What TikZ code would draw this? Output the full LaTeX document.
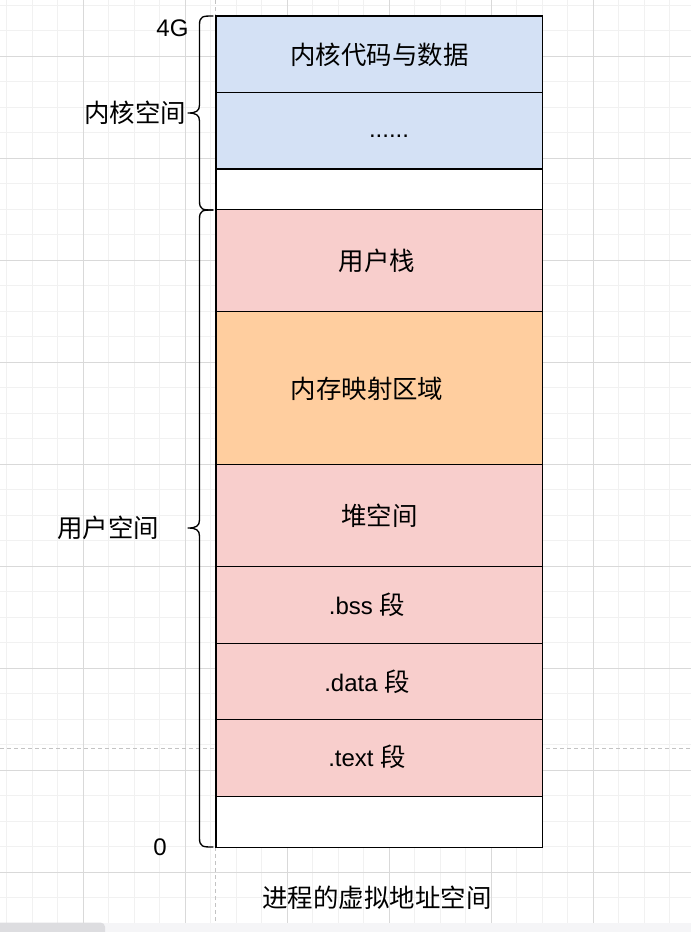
\documentclass[tikz,border=0pt]{standalone}
\usepackage{fontspec}
\setmainfont{Liberation Sans}
\newfontfamily\cjk{Noto Sans CJK SC}[Scale=1.06]
\definecolor{kblue}{HTML}{D4E1F5}
\definecolor{upink}{HTML}{F8CECC}
\definecolor{morange}{HTML}{FFCE9F}
\definecolor{gmajor}{HTML}{D9D9D9}
\definecolor{gminor}{HTML}{F1F1F1}
\definecolor{pageline}{HTML}{C3C3C3}
\definecolor{sbar}{HTML}{F5F5F7}
\definecolor{shandle}{HTML}{DDDDE0}
\newcommand\mybrace[3]{%
  \draw[bracel] (213,#1) .. controls (203,#1) and (199.5,#1) .. (199.5,#1+9)
    -- (199.5,#2-8) .. controls (199.5,#2-2) and (196,#2) .. (188,#2)
    .. controls (196,#2) and (199.5,#2+2) .. (199.5,#2+8)
    -- (199.5,#3-9) .. controls (199.5,#3) and (203,#3) .. (213,#3);}
\begin{document}
\begin{tikzpicture}[x=0.75pt,y=-0.75pt,
  row/.style={draw=black, line width=1pt, minimum width=244.8pt, inner sep=0pt, outer sep=0pt, anchor=north west},
  txt/.style={font=\fontsize{18}{20}\selectfont, inner sep=0pt},
  bracel/.style={draw=black, line width=1pt, line join=round, line cap=round}]
\useasboundingbox (0,0) rectangle (691,932);
\fill[white] (0,0) rectangle (691,932);
% grid
\foreach \x in {6.8,32.3,...,691} \draw[gminor, line width=0.75pt] (\x,0) -- (\x,923);
\foreach \y in {5.3,30.8,...,923} \draw[gminor, line width=0.75pt] (0,\y) -- (691,\y);
\foreach \x in {83.3,185.3,...,691} \draw[gmajor, line width=0.75pt] (\x,0) -- (\x,923);
\foreach \y in {56.3,158.3,...,923} \draw[gmajor, line width=0.75pt] (0,\y) -- (691,\y);
% page break lines
\draw[pageline, line width=0.75pt, dash pattern=on 3pt off 2.25pt] (215.5,0) -- (215.5,923);
\draw[pageline, line width=0.75pt, dash pattern=on 3pt off 2.25pt] (0,748.5) -- (691,748.5);
% scrollbar
\fill[sbar] (0,922.7) rectangle (691,935);
\fill[shandle, rounded corners=3pt] (-10,922.7) rectangle (105,940);
% rows
\node[row, fill=kblue, minimum height=57.375pt] (k1) at (216,16) {};
\node[row, fill=kblue, minimum height=57.375pt] (k2) at (216,92.5) {};
\node[row, fill=white, minimum height=30.6pt] (k3) at (216,169) {};
\node[row, fill=upink, minimum height=76.5pt] (u1) at (216,209.8) {};
\node[row, fill=morange, minimum height=114.75pt] (u2) at (216,311.8) {};
\node[row, fill=upink, minimum height=76.5pt] (u3) at (216,464.8) {};
\node[row, fill=upink, minimum height=57.375pt] (u4) at (216,566.8) {};
\node[row, fill=upink, minimum height=57.375pt] (u5) at (216,643.3) {};
\node[row, fill=upink, minimum height=57.375pt] (u6) at (216,719.8) {};
\node[row, fill=white, minimum height=38.25pt] (u7) at (216,796.3) {};
% row texts
\node[txt] (t1) at (379.5,55) {\cjk 内核代码与数据};
\node[txt] (t2) at (389,136) {......};
\node[txt] (t3) at (377,261) {\cjk 用户栈};
\node[txt] (t4) at (367,389) {\cjk 内存映射区域};
\node[txt] (t5) at (379.5,516) {\cjk 堆空间};
\node[txt] (t6) at (367,605) {.bss {\cjk 段}};
\node[txt] (t7) at (367,682) {.data {\cjk 段}};
\node[txt] (t8) at (367,757) {.text {\cjk 段}};
% side labels
\node[txt] (l4g) at (172.5,28.5) {4G};
\node[txt] (lk) at (135,113) {\cjk 内核空间};
\node[txt] (lu) at (108,528) {\cjk 用户空间};
\node[txt] (l0) at (160,847) {0};
\node[txt] (cap) at (377,898) {\cjk 进程的虚拟地址空间};
% braces
\mybrace{16}{113}{210}
\mybrace{210}{528}{847}
\end{tikzpicture}
\end{document}
